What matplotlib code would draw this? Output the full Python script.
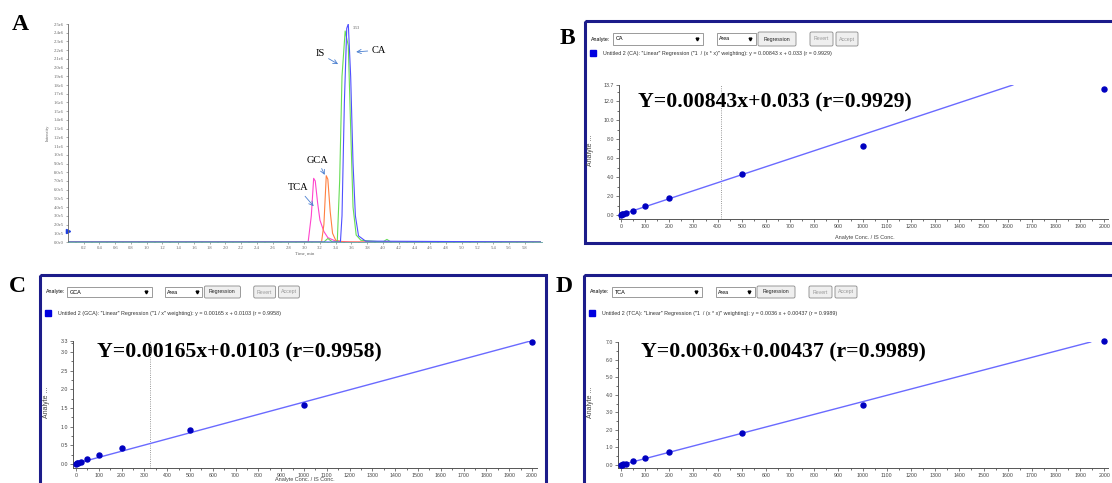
import matplotlib.pyplot as plt
import matplotlib.patches as mpatches
import numpy as np

W, H = 1112, 483

# ---- panel A : chromatogram traces (time, min / intensity) ----
tca_t = [0, 3.05, 3.09, 3.12, 3.14, 3.17, 3.20, 3.25, 3.30, 3.40, 3.60, 6.0]
tca_i = [0, 0, 3.0e5, 7.3e5, 7.0e5, 4.5e5, 2.5e5, 1.2e5, 0.5e5, 0.1e5, 0, 0]
gca_t = [0, 3.22, 3.25, 3.28, 3.30, 3.33, 3.36, 3.40, 3.50, 6.0]
gca_i = [0, 0, 2.0e5, 7.6e5, 7.2e5, 3.5e5, 1.0e5, 0.2e5, 0, 0]
is_t = [0, 3.25, 3.30, 3.36, 3.42, 3.45, 3.48, 3.52, 3.56, 3.59, 3.62, 3.66, 3.72, 4.00, 4.05, 4.10, 6.0]
is_i = [0, 0, 0.4e5, 0, 0.05e5, 0.7e6, 1.9e6, 2.42e6, 2.25e6, 1.3e6, 0.4e6, 0.08e6, 0.02e6, 0, 0.03e6, 0, 0]
ca_t = [0, 3.46, 3.48, 3.51, 3.54, 3.56, 3.59, 3.62, 3.65, 3.69, 3.78, 6.0]
ca_i = [0, 0, 0.3e6, 1.6e6, 2.45e6, 2.5e6, 1.9e6, 0.9e6, 0.3e6, 0.07e6, 0.01e6, 0]

a_yticks = np.arange(0, 2.5e6 + 1, 1e5)
a_ylabels = ['0.0e0', '1.0e5', '2.0e5', '3.0e5', '4.0e5', '5.0e5', '6.0e5', '7.0e5', '8.0e5',
             '9.0e5', '1.0e6', '1.1e6', '1.2e6', '1.3e6', '1.4e6', '1.5e6', '1.6e6', '1.7e6',
             '1.8e6', '1.9e6', '2.0e6', '2.1e6', '2.2e6', '2.3e6', '2.4e6', '2.5e6']

# ---- panels B, C, D : calibration curves ----
conc = [2, 5, 10, 20, 50, 100, 200, 500, 1000, 2000]
ca_ratio = [0.03, 0.07, 0.12, 0.25, 0.45, 0.97, 1.82, 4.32, 7.26, 13.3]
gca_ratio = [0.01, 0.02, 0.03, 0.06, 0.12, 0.24, 0.42, 0.92, 1.58, 3.28]
tca_ratio = [0.01, 0.02, 0.04, 0.08, 0.20, 0.38, 0.72, 1.83, 3.42, 7.08]

slopes = [0.00843, 0.00165, 0.0036]
icpts = [0.033, 0.0103, 0.00437]
analytes = ['CA', 'GCA', 'TCA']
eq_texts = ['Y=0.00843x+0.033 (r=0.9929)', 'Y=0.00165x+0.0103 (r=0.9958)',
            'Y=0.0036x+0.00437 (r=0.9989)']
legend_texts = [
    'Untitled 2 (CA): "Linear" Regression ("1  / (x * x)" weighting): y = 0.00843 x + 0.033 (r = 0.9929)',
    'Untitled 2 (GCA): "Linear" Regression ("1 / x" weighting): y = 0.00165 x + 0.0103 (r = 0.9958)',
    'Untitled 2 (TCA): "Linear" Regression ("1  / (x * x)" weighting): y = 0.0036 x + 0.00437 (r = 0.9989)',
]
ytick_sets = [[0, 2, 4, 6, 8, 10, 12, 13.7],
              [0, 0.5, 1.0, 1.5, 2.0, 2.5, 3.0, 3.3],
              [0, 1, 2, 3, 4, 5, 6, 7]]
ytick_labels = [['0.0', '2.0', '4.0', '6.0', '8.0', '10.0', '12.0', '13.7'],
                ['0.0', '0.5', '1.0', '1.5', '2.0', '2.5', '3.0', '3.3'],
                ['0.0', '1.0', '2.0', '3.0', '4.0', '5.0', '6.0', '7.0']]
cursor_x = [413, 325, None]

NAVY = '#1c1c8a'
SANS = 'Liberation Sans'
SERIF = 'Liberation Serif'


def box(x0, y0, x1, y1):
    # pixel box -> figure coords
    return [x0 / W, 1 - y1 / H, (x1 - x0) / W, (y1 - y0) / H]


fig = plt.figure(figsize=(W / 100, H / 100), dpi=100)
bg = fig.add_axes([0, 0, 1, 1])
bg.set_xlim(0, W)
bg.set_ylim(H, 0)
bg.axis('off')

# ---------------- panel A ----------------
axA = fig.add_axes(box(68, 24, 542, 242))
axA.set_facecolor('none')
axA.plot(tca_t, tca_i, color='#ff44cc', lw=0.8)
axA.plot(gca_t, gca_i, color='#ff8040', lw=0.8)
axA.plot(is_t, is_i, color='#66dd55', lw=0.8)
axA.plot(ca_t, ca_i, color='#5050ff', lw=0.8)
axA.set_xlim(0, 6.02)
axA.set_ylim(0, 2.5e6)
axA.set_yticks(a_yticks)
axA.set_yticklabels(a_ylabels)
axA.set_xticks(np.arange(0.2, 5.81, 0.2))
axA.set_xticks(np.arange(0.1, 6.0, 0.1), minor=True)
axA.xaxis.set_major_formatter(plt.FormatStrFormatter('%.1f'))
for s in ['top', 'right']:
    axA.spines[s].set_visible(False)
for s in ['left', 'bottom']:
    axA.spines[s].set_color('#666666')
    axA.spines[s].set_linewidth(0.6)
axA.spines['bottom'].set_color('#5a9a9a')
axA.tick_params(labelsize=3.3, length=1.5, width=0.4, pad=1.5, colors='#666666')
axA.tick_params(which='minor', length=1, width=0.3, colors='#666666')
for lab in axA.get_xticklabels() + axA.get_yticklabels():
    lab.set_fontfamily(SERIF)
axA.set_xlabel('Time, min', fontsize=3.3, family=SERIF, color='#666666', labelpad=1)
axA.set_ylabel('Intensity', fontsize=3.3, family=SERIF, color='#666666', labelpad=3)
arrow_kw = dict(arrowstyle='->', color='#4a7fd0', lw=0.6, shrinkA=1, shrinkB=0)
axA.annotate('IS', xy=(3.43, 2.04e6), xytext=(3.2, 2.16e6), fontsize=7.5, family=SERIF,
             ha='center', va='center', arrowprops=arrow_kw)
axA.annotate('CA', xy=(3.66, 2.18e6), xytext=(3.95, 2.2e6), fontsize=7.5, family=SERIF,
             ha='center', va='center', arrowprops=arrow_kw)
axA.annotate('GCA', xy=(3.26, 0.77e6), xytext=(3.17, 0.94e6), fontsize=7.5, family=SERIF,
             ha='center', va='center', arrowprops=arrow_kw)
axA.annotate('TCA', xy=(3.12, 0.41e6), xytext=(2.92, 0.62e6), fontsize=7.5, family=SERIF,
             ha='center', va='center', arrowprops=arrow_kw)
axA.text(3.62, 2.45e6, '3.53', fontsize=3, family=SERIF, color='#555555', va='center')
axA.plot([0.0], [1.3e5], marker='>', color='#2040e0', ms=3, clip_on=False)


# ---------------- panels B, C, D ----------------
def draw_frame(x0, y0, x1, y1, sx, leg_dy, combo_h, name, legend):
    bg.add_patch(mpatches.Rectangle((x0, y0), x1 - x0, y1 - y0, fill=False, ec=NAVY, lw=2.2))
    cy0, cy1 = y0 + 12, y0 + 12 + combo_h
    cym = (cy0 + cy1) / 2
    bg.text(x0 + 6 * sx, cym, 'Analyte:', fontsize=3.8, family=SANS, va='center')
    # analyte combo
    bg.add_patch(mpatches.Rectangle((x0 + 28 * sx, cy0), 90 * sx, combo_h, fc='white',
                                    ec='#8a8a8a', lw=0.6))
    bg.text(x0 + 31 * sx, cym, name, fontsize=4, family=SANS, va='center')
    bg.plot([x0 + 112 * sx], [cym], marker='v', color='black', ms=2)
    # area combo
    bg.add_patch(mpatches.Rectangle((x0 + 132 * sx, cy0), 39 * sx, combo_h, fc='white',
                                    ec='#8a8a8a', lw=0.6))
    bg.text(x0 + 134 * sx, cym, 'Area', fontsize=3.8, family=SANS, va='center')
    bg.plot([x0 + 165 * sx], [cym], marker='v', color='black', ms=2)
    # buttons
    for bx0, bx1, lab, col in [(173, 211, 'Regression', '#222222'),
                               (225, 248, 'Revert', '#999999'),
                               (251, 273, 'Accept', '#999999')]:
        bg.add_patch(mpatches.FancyBboxPatch((x0 + bx0 * sx, cy0 - 1), (bx1 - bx0) * sx,
                                             combo_h + 2, boxstyle='round,pad=0,rounding_size=1.5',
                                             fc='#efefef', ec='#8a8a8a', lw=0.6))
        bg.text(x0 + (bx0 + bx1) / 2 * sx, cym, lab, fontsize=3.8, family=SANS, color=col,
                ha='center', va='center')
    # legend row
    ly = y0 + leg_dy
    bg.add_patch(mpatches.Rectangle((x0 + 5, ly - 3), 6, 6, fc='#0000e0', ec='#0000e0'))
    bg.text(x0 + 18, ly, legend, fontsize=3.9, family=SANS, color='#333333', va='center')


def draw_curve(ax_box, xlim, ylim, yvals, k, ylab_xy, xlab_xy, eq_xy):
    ax = fig.add_axes(box(*ax_box))
    ax.set_facecolor('none')
    x_end = min(2000, (ylim[1] - icpts[k]) / slopes[k])
    xs = np.array([0, x_end])
    ax.plot(xs, slopes[k] * xs + icpts[k], color='#6a6aff', lw=1.0, zorder=2)
    ax.plot(conc, yvals, 'o', color='#0000c0', ms=3.6, zorder=3, clip_on=False)
    if cursor_x[k] is not None:
        ax.axvline(cursor_x[k], color='#777777', lw=0.6, ls=':', zorder=1)
    ax.set_xlim(*xlim)
    ax.set_ylim(*ylim)
    ax.set_xticks(np.arange(0, 2001, 100))
    ax.set_xticks(np.arange(0, 2001, 50), minor=True)
    ax.set_yticks(ytick_sets[k])
    ax.set_yticklabels(ytick_labels[k])
    ax.set_yticks(np.arange(0, ylim[1], (ytick_sets[k][1] - ytick_sets[k][0]) / 2), minor=True)
    for s in ['top', 'right']:
        ax.spines[s].set_visible(False)
    for s in ['left', 'bottom']:
        ax.spines[s].set_color('#555555')
        ax.spines[s].set_linewidth(0.7)
    ax.tick_params(labelsize=3.8, length=2, width=0.5, pad=1.5, colors='#444444')
    ax.tick_params(which='minor', length=1.2, width=0.4)
    for lab in ax.get_xticklabels() + ax.get_yticklabels():
        lab.set_fontfamily(SANS)
    bg.text(ylab_xy[0], ylab_xy[1], 'Analyte ...', rotation=90, fontsize=5, family=SANS,
            color='#444444', ha='center', va='center')
    if xlab_xy is not None:
        bg.text(xlab_xy[0], xlab_xy[1], 'Analyte Conc. / IS Conc.', fontsize=4, family=SANS,
                color='#444444', ha='center', va='center')
    bg.text(eq_xy[0], eq_xy[1], eq_texts[k], fontsize=15.7, family=SERIF, weight='bold',
            va='center', ha='left')
    return ax


# B
draw_frame(585, 21, 1125, 243, 1.0, 32, 12, analytes[0], legend_texts[0])
draw_curve((619, 85, 1108, 219), (-8, 2015), (-0.42, 13.7), ca_ratio, 0,
           (590, 150), (865, 237), (638, 102))
# C
draw_frame(40, 275, 546, 500, 0.95, 38, 10, analytes[1], legend_texts[1])
draw_curve((73, 341, 537, 468), (-13, 2022), (-0.11, 3.3), gca_ratio, 1,
           (46, 402), (305, 479.5), (97, 352))
# D
draw_frame(584, 275, 1125, 500, 1.0, 38, 10, analytes[2], legend_texts[2])
draw_curve((618, 342, 1108, 468), (-12, 2015), (-0.17, 7.0), tca_ratio, 2,
           (591, 402), None, (641, 352))

# panel letters
for lab, (px, py) in zip(['A', 'B', 'C', 'D'], [(12, 24), (560, 38), (9, 287), (556, 287)]):
    bg.text(px, py, lab, fontsize=17, family=SERIF, weight='bold', va='center', ha='left')

fig.savefig('out.png', dpi=100)
